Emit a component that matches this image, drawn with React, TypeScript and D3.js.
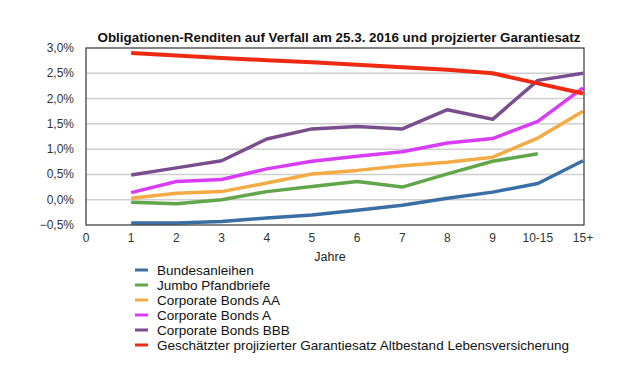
import React from "react";
import * as d3 from "d3";

const title = "Obligationen-Renditen auf Verfall am 25.3. 2016 und projzierter Garantiesatz";
const xLabels = ["0", "1", "2", "3", "4", "5", "6", "7", "8", "9", "10-15", "15+"];
const yTicks = [-0.5, 0, 0.5, 1.0, 1.5, 2.0, 2.5, 3.0];

const bundesanleihen = [-0.46, -0.46, -0.43, -0.36, -0.30, -0.21, -0.11, 0.03, 0.15, 0.32, 0.77];
const jumbo = [-0.05, -0.08, 0.0, 0.16, 0.26, 0.36, 0.25, 0.51, 0.76, 0.91];
const corpAA = [0.03, 0.13, 0.16, 0.33, 0.51, 0.58, 0.67, 0.74, 0.84, 1.22, 1.75];
const corpA = [0.14, 0.36, 0.40, 0.61, 0.76, 0.86, 0.95, 1.12, 1.21, 1.55, 2.21];
const corpBBB = [0.49, 0.63, 0.77, 1.20, 1.40, 1.45, 1.40, 1.78, 1.59, 2.36, 2.50];
const garantie = [2.90, 2.85, 2.80, 2.76, 2.72, 2.67, 2.62, 2.57, 2.50, 2.30, 2.10];

const seriesNames = [
  "Bundesanleihen",
  "Jumbo Pfandbriefe",
  "Corporate Bonds AA",
  "Corporate Bonds A",
  "Corporate Bonds BBB",
  "Geschätzter projizierter Garantiesatz Altbestand Lebensversicherung",
];
const seriesValues = [bundesanleihen, jumbo, corpAA, corpA, corpBBB, garantie];
const seriesColors = ["#3a6fa6", "#62a64a", "#f4ab45", "#d83cf6", "#7a4d8c", "#ef2a12"];

export default function App() {
  const W = 640, H = 381;
  const left = 86, right = 584, top = 48, bottom = 225;
  const x = d3.scaleLinear().domain([0, 11]).range([left, 583]);
  const y = d3.scaleLinear().domain([-0.5, 3.0]).range([bottom, top]);
  const line = d3
    .line<number>()
    .x((_, i) => x(i + 1))
    .y((d) => y(d));
  const fmt = (v: number) => d3.format(".1f")(v).replace(".", ",") + "%";
  const font = "'Liberation Sans', Arial, Helvetica, sans-serif";

  return (
    <svg
      width={W}
      height={H}
      style={{ position: "absolute", left: 0, top: 0, background: "#fff" }}
      fontFamily={font}
    >
      <rect x={0} y={0} width={W} height={H} fill="#fff" />
      <text x={339} y={41.5} textAnchor="middle" fontSize={13.4} fontWeight="bold" fill="#111">
        {title}
      </text>
      {yTicks.map((t) => (
        <g key={t}>
          {t > -0.5 && t < 3.0 && (
            <line x1={left} x2={right} y1={y(t)} y2={y(t)} stroke="#cfcfcf" strokeWidth={1.5} />
          )}
          <text x={74} y={y(t) + 4} textAnchor="end" fontSize={12} fill="#333">
            {fmt(t)}
          </text>
        </g>
      ))}
      {xLabels.map((l, i) => (
        <text key={l} x={x(i)} y={241.5} textAnchor="middle" fontSize={12} fill="#333">
          {l}
        </text>
      ))}
      <text x={330} y={261} textAnchor="middle" fontSize={12.5} fill="#222">
        Jahre
      </text>
      {seriesValues.map((vals, si) => (
        <path
          key={si}
          d={line(vals) || ""}
          fill="none"
          stroke={seriesColors[si]}
          strokeWidth={si === 5 ? 4 : 3.5}
          strokeLinejoin="round"
        />
      ))}
      <rect x={left} y={top} width={right - left} height={bottom - top} fill="none" stroke="#333" strokeWidth={1.2} />
      {seriesNames.map((n, i) => (
        <g key={n}>
          <line x1={135} x2={148} y1={270 + i * 15} y2={270 + i * 15} stroke={seriesColors[i]} strokeWidth={3} />
          <text x={157} y={274.5 + i * 15} fontSize={13.5} fill="#111">
            {n}
          </text>
        </g>
      ))}
    </svg>
  );
}
